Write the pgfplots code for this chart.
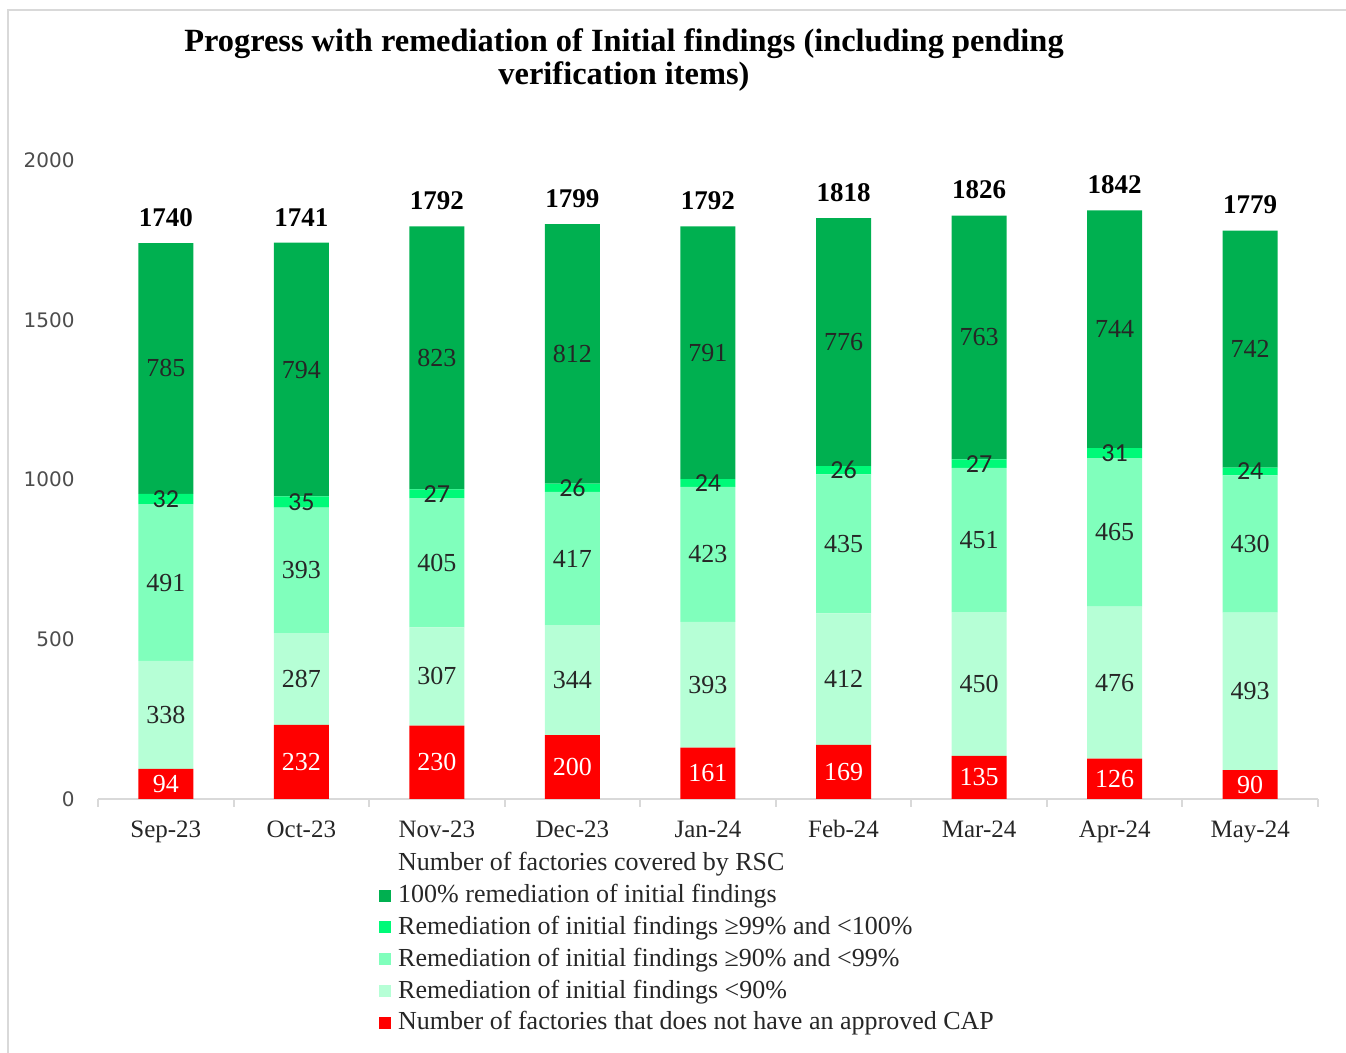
\documentclass[border=0pt]{standalone}
\usepackage{fontspec}
\setmainfont{Liberation Serif}
\newfontfamily\tickfont{DejaVu Sans}
\newfontfamily\smallfont{Carlito}
\usepackage{pgfplots}
\usepackage{pgfplotstable}
\pgfplotsset{compat=1.18}

\definecolor{cfull}{RGB}{0,176,80}
\definecolor{chigh}{RGB}{0,250,120}
\definecolor{cmid}{RGB}{128,255,188}
\definecolor{clow}{RGB}{182,255,214}
\definecolor{cnocap}{RGB}{255,0,0}
\definecolor{framegray}{RGB}{217,217,217}

% one row per month, segments bottom to top
\pgfplotstableread{
x nocap low mid high full total
0  94 338 491 32 785 1740
1 232 287 393 35 794 1741
2 230 307 405 27 823 1792
3 200 344 417 26 812 1799
4 161 393 423 24 791 1792
5 169 412 435 26 776 1818
6 135 450 451 27 763 1826
7 126 476 465 31 744 1842
8  90 493 430 24 742 1779
}\remtable

\pgfplotsset{
  seglabel/.style 2 args={
    nodes near coords,
    every node near coord/.append style={anchor=center, inner sep=0pt,
      font=#2, text=#1},
  },
  sqleg/.style={
    legend image code/.code={%
      \fill[#1] (0pt,-2pt) rectangle (6pt,4pt);
      \path (9.5pt,0pt);}
  },
  samebox/.style={
    at={(49pt,127pt)}, anchor=south west,
    scale only axis, width=610pt, height=319.5pt,
    xmin=-0.5, xmax=8.5, ymin=0, ymax=2000,
  },
}

\begin{document}
\begin{tikzpicture}
\useasboundingbox (0pt,0pt) rectangle (673pt,526.5pt);
\draw[framegray, line width=1pt] (4pt,0pt) -- (4pt,521.5pt) -- (673pt,521.5pt);
\node[align=center, font=\bfseries\fontsize{16.2}{16.5}\selectfont] at (312pt,496.5pt)
  {Progress with remediation of Initial findings (including pending\\verification items)};
\begin{axis}[
  samebox,
  ybar stacked, bar width=27.5pt,
  axis lines*=left,
  x axis line style={framegray, line width=1pt},
  y axis line style={draw=none},
  xtick={0,...,8},
  xticklabels={Sep-23,Oct-23,Nov-23,Dec-23,Jan-24,Feb-24,Mar-24,Apr-24,May-24},
  minor xtick={-0.5,0.5,...,8.5},
  major tick length=0pt,
  minor tick length=4pt,
  tick align=outside,
  minor tick style={framegray, line width=1pt},
  ytick={0,500,...,2000},
  xticklabel style={font=\fontsize{12.5}{14}\selectfont, text=black!85, anchor=base, inner sep=0pt, yshift=-19.5pt},
  yticklabel style={font=\tickfont\fontsize{10}{12}\selectfont, text=black!70, anchor=east, inner sep=0pt, xshift=-11.5pt},
  legend cell align=left,
  reverse legend,
  legend style={at={(0.2295,-0.0792)}, anchor=north west, draw=none, fill=none,
    inner sep=0pt, row sep=0pt, font=\fontsize{13}{14}\selectfont,
    nodes={inner sep=0pt, text height=10.5pt, text depth=5.4pt, text=black!85}},
  /pgf/number format/assume math mode=true,
  /pgf/number format/1000 sep={},
]
\addplot[fill=cnocap, draw=none, sqleg=cnocap,
  seglabel={white}{\fontsize{13}{15}\selectfont}]
  table[x=x, y=nocap]{\remtable};
\addlegendentry{Number of factories that does not have an approved CAP}
\addplot[fill=clow, draw=none, sqleg=clow,
  seglabel={black!85}{\fontsize{13}{15}\selectfont}]
  table[x=x, y=low]{\remtable};
\addlegendentry{Remediation of initial findings <90\%}
\addplot[fill=cmid, draw=none, sqleg=cmid,
  seglabel={black!85}{\fontsize{13}{15}\selectfont}]
  table[x=x, y=mid]{\remtable};
\addlegendentry{Remediation of initial findings ≥90\% and <99\%}
\addplot[fill=chigh, draw=none, sqleg=chigh,
  seglabel={black!85}{\smallfont\fontsize{13}{15}\selectfont}]
  table[x=x, y=high]{\remtable};
\addlegendentry{Remediation of initial findings ≥99\% and <100\%}
\addplot[fill=cfull, draw=none, sqleg=cfull,
  seglabel={black!85}{\fontsize{13}{15}\selectfont}]
  table[x=x, y=full]{\remtable};
\addlegendentry{100\% remediation of initial findings}
\addlegendimage{legend image code/.code={\path (0pt,0pt) (9.5pt,0pt);}}
\addlegendentry{Number of factories covered by RSC}
\end{axis}
% totals above the bars, same frame, no stacking
\begin{axis}[samebox, hide axis]
\addplot[draw=none, mark=none,
  point meta=explicit symbolic,
  nodes near coords={\pgfplotspointmeta},
  every node near coord/.append style={anchor=south, inner sep=0pt, yshift=8pt,
    font=\bfseries\fontsize{13.5}{15}\selectfont, text=black}]
  table[x=x, y=total, meta=total]{\remtable};
\end{axis}
\end{tikzpicture}
\end{document}
